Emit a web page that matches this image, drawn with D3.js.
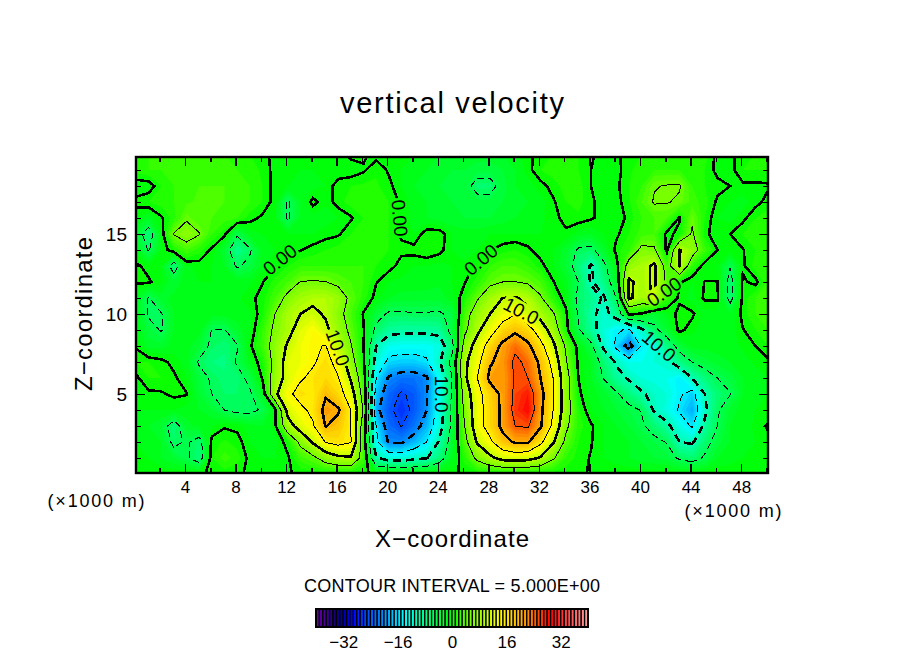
<!DOCTYPE html>
<meta charset="utf-8">
<style>
html, body { margin: 0; background: #fff; }
svg { display: block; }
text { font-family: "Liberation Sans", sans-serif; fill: #000; }
</style>
<body>
<script src="https://d3js.org/d3.v7.min.js"></script>
<script>

const width = 904
const height = 654

// W values, one row per km of height from z=20 down to z=0,
// one column per km of distance from x=0 to x=50
const zLevels = [20, 19, 18, 17, 16, 15, 14, 13, 12, 11, 10, 9, 8, 7, 6, 5, 4, 3, 2, 1, 0]
const xStart = 0.125
const wRows = [
  [1.5,2,2,2,2,2,2,2,1.5,1,0.5,-0.5,-1,-1,-1,-1,-0.5,0.4,0.3,-0.5,-0.5,-1,-1,-1.5,-2,-2.5,-2.5,-2.5,-2.5,-2,-1.5,-0.5,0.8,1,1,1,0.2,-0.5,-0.2,0.5,1,1.5,1.5,1.5,1.5,1.5,-0.5,-0.5,0.8,1,1],
  [1.5,2,2,2.5,2.5,2.5,2.5,2.5,2,1.5,0.8,-0.5,-1,-1,-1,-1,-1,-0.8,-0.2,0.8,-0.2,-1,-1.5,-2,-2.5,-3,-3,-3.5,-3.5,-3,-2,-0.5,1,1.5,1.5,1,0,-0.5,-0.5,0.8,1.5,2,2,2,1.5,1,-0.5,-0.5,1,1,1],
  [-1,-0.8,1,2,2.5,3,3,3,2.5,2,1,-0.5,-1,-1.5,-1.5,-1,0.8,1,1.2,1.2,0.4,-1,-2,-2.5,-3,-3.5,-3.5,-6.5,-6.5,-3.5,-2,-1.5,-0.5,0.5,1.5,1.5,0,-0.5,-0.3,1,2,4.8,5.2,5.3,2,1,0.5,0,-0.3,-0.3,-0.2],
  [0.5,1,1.5,2,2.8,3.2,3.5,3,2.5,2,1,-0.6,-5.5,-2,0.5,-0.8,0.6,1.5,1.5,1.5,1,-0.3,-1.5,-2,-2.5,-3,-3.5,-3.5,-3.5,-3,-2.5,-2,-1.5,-0.2,1,1.5,0.2,-0.5,-0.5,0.8,3,5.3,5.2,4.5,2.5,1.5,-0.3,-1,-1.5,-0.5,0.5],
  [-1,-2,-0.2,1.5,4.5,3,3,2.5,2,0.5,-0.3,-1,-5.5,-2,-1.5,-1.5,-1,-0.2,1,1.5,1,-0.3,-1.5,-2,-2.5,-3,-3,-3,-3,-2.5,-2,-1.5,-1.2,-0.5,0.5,0.7,0.2,-0.5,-1,0.5,2,3,3,-0.2,4.5,1,-1,-1.5,-0.4,1,1.5],
  [-3,-7,-1,5.2,7,5.2,2,0.4,-4.5,-1.5,-1,-1,-1,-1,-1,-0.5,-0.2,1,1.5,1.5,1,-0.2,-1,0.8,0.8,-1,-1.5,-1.5,-1,-1,-1,-1,-1,-0.8,-0.3,-1.5,-2,-1,-0.3,1,2.5,3,-0.5,0.5,5.5,0.5,-1,0,1,1.5,2],
  [-1.5,-5.3,-1,1,3,1.5,-0.3,-3,-8,-5.5,-1.5,-1,-0.8,-0.1,0.5,1,1.5,1.5,1.5,1.5,1,0.3,0.5,1,0.5,-1,-1.5,-1,-0.1,0.6,1,0.3,-0.7,-1,-2.5,-5.5,-6,-2.5,0.5,2,6,5.5,-0.5,10.2,7,2.5,0,-0.3,-0.1,1,2],
  [0.3,-0.5,-1,-7,-1.2,-0.7,-1,-2,-5.5,-4,-1.5,-0.1,1,2,2,2,2,2,2,1,0.5,-0.5,-1,-1,-1.5,-1,-0.8,0.3,2,3,3,2,0.5,-1,-3,-7,-10.5,-6,-1,7,8.5,10.8,3,10.2,2,-0.8,-1,-4.8,-0.3,1.5,2],
  [0.3,0.2,-0.7,-3,-1.2,-1,-1,-1.2,-1.2,-1.2,-0.1,1.5,3,5.1,5.3,5.1,4,3,2,0.1,-1,-1.2,-1.3,-1.5,-1.8,-1,-0.1,1.5,4,5,5.1,4.5,3,0.1,-1.5,-5,-10.5,-7.5,-2.5,10.8,8.5,10.8,4,0.3,-1,0.05,0.05,-6.5,0.3,-0.5,2],
  [-2,-5.2,-2.5,-1.5,-1.3,-1.2,-1.2,-1.2,-1.2,-0.4,0.5,3,6,8,9,9,7.5,4,1.5,-0.6,-2,-2.5,-2.5,-2.5,-2.5,-1.5,1,4.5,8,10,10.3,9,5.5,1.5,-0.8,-6,-8,-10.5,-5,10.8,8,10.5,2.5,-0.5,-1.5,0.3,0.3,-6.5,0.4,2,2.5],
  [-1.2,-5.5,-5.2,-2,-1.5,-1.5,-1.5,-1.5,-1.5,-1.2,0.8,5,8.5,10,11,9.5,6.5,3,-0.2,-3.5,-5.5,-5.5,-5.2,-5.3,-5.5,-4,3,7.5,10,13,14.8,11,8.5,5.5,0.5,-5.5,-9,-11.5,-8,0.5,-0.3,-3,-1.5,0.8,0.3,-1.5,-1.5,-2,0.5,2,2.5],
  [-1,-3.5,-5.3,-2,-1.5,-1.5,-5.1,-5.2,-2.5,-1.2,2,6,8.5,12,14,11,7.5,4,0.2,-6,-8.5,-9,-9,-9,-8.5,-3.5,4,9,13,17,19,17,12.5,8,1,-4.5,-8.5,-12,-14.5,-15.5,-11,-6,-3,0.5,-0.8,-1.5,-1.5,-1.5,-0.1,1,2],
  [-0.2,-2.5,-2.5,-1.5,-1.5,-3,-5.8,-6.5,-5.3,-0.4,2.5,7,10.5,13,14.5,15.2,10,5.3,0.1,-10,-13,-13.5,-13.5,-13.5,-12.5,-6.5,7,12,17,21,24,21,16.5,11,4.5,-1,-4,-11,-16,-22,-14.5,-12,-7.5,-3.5,-1.5,-1.5,-1.5,-1.5,-0.8,0,1],
  [1,1,0.5,-0.5,-1.5,-5.5,-7,-7.5,-4.5,-1.5,1,6.5,12,13,14.5,16.5,13.5,7,0.5,-12,-16,-16.5,-16.5,-15.5,-10.5,-3.5,9,13.5,19.5,21.5,26,24,19,13.5,5.5,-0.5,-2,-6.5,-10.5,-13,-13,-12,-11,-7.5,-5,-3.5,-2.5,-2,-1.5,-0.8,-0.3],
  [-0.3,1,1,0.3,-1,-3.5,-5.5,-6.5,-6.5,-4,0.2,7.5,11.5,14.5,16,17,15.2,9.5,2,-15,-20.5,-22,-22,-20.5,-13.5,-5,9,15,21,21,25.5,25,20,15,7,0,-2,-5.2,-8.5,-10.5,-12,-12.5,-13,-14.5,-10,-7,-5,-3.5,-2,-1.5,-1],
  [-0.5,-0.3,-0.2,0.3,0.1,-3,-5,-6,-6,-5.5,-2,9,14,16.5,15.5,19.5,17,12.5,3,-17,-23,-25.5,-24,-20.2,-13,-4.5,7,13.5,17.5,21,26,28,21.5,15.5,7,0.4,-1.5,-2.5,-4.5,-7,-9.5,-11,-12,-14.5,-16.5,-10,-6.5,-5.2,-2,-1.5,-1],
  [-1,-1,-1,-1,-1.5,-2,-3,-5,-6,-6,-4.5,-0.7,11.5,14,16,21.5,20.5,15,4.5,-18.5,-24,-27,-24,-20,-12.5,-4,6,13,17,21,26.5,29,21,15,7.5,1.2,-1,-2,-3,-4,-5.2,-10.5,-12.5,-15.5,-18.5,-11,-5.5,-2.5,-1.5,-1,-1],
  [-1.5,-2,-3,-7,-2.5,-1.5,-1,-0.2,-0.4,-1.5,-2,-0.5,8,12,14.5,20.2,18.5,15,2.5,-15,-22.5,-25.2,-22,-18,-12,-4,5,13,17,21,25,25.5,20.5,14,6,1.5,0.2,-1,-2,-3,-4.5,-6.5,-9,-12.5,-15.5,-9,-5,-2,-1.5,-0.8,0.2],
  [-1,-1.5,-2,-6,-4.5,-6.5,0.5,1.2,0.6,-1,-1.5,-1.5,0.8,6,10.5,15.2,16.5,15.2,2,-14,-20.5,-20.5,-18,-15,-9.5,-3,3.5,10.5,14,18.5,20.5,20.5,16,10.5,4,1,0.1,-1,-1.5,-2,-3,-4,-5.2,-10,-10.5,-6.5,-3.5,-2,-1.5,-1,-0.5],
  [-1,-1,-2,-3,-4.5,-7,1,2.5,1.5,-0.5,-1,-1,-0.3,2.5,4,7,9,9.5,3,-9.5,-12,-12,-11,-10.2,-7,-2,1.5,6,9,11.5,12,11.5,9.5,5.5,2,0.5,-0.1,-1,-1.5,-2,-2.5,-3,-3.5,-5.5,-6.5,-4.5,-2,-1.5,-1,-0.8,-0.5],
  [-0.2,-0.2,-0.2,-0.2,-0.2,-0.2,0.2,0.3,0.2,-0.2,-0.2,-0.2,-0.1,0.2,0.3,0.3,0.3,0.3,0.2,-0.3,-0.3,-0.3,-0.3,-0.3,-0.3,-0.2,0.2,0.3,0.3,0.3,0.3,0.3,0.3,0.3,0.2,0.2,-0.1,-0.2,-0.2,-0.2,-0.2,-0.2,-0.2,-0.3,-0.3,-0.3,-0.2,-0.2,-0.2,-0.2,-0.2]
]

const contourLevels = [-25, -20, -15, -10, -5, 0, 5, 10, 15, 20, 25]
const thickLevels = [-20, -10, 0, 10, 20]

// colour stops of the bar along W
const colourStops = [-40, -37, -34, -32, -29, -26, -21, -17, -14, -9, -4, 0, 5, 10, 14, 20, 23, 26, 29, 33, 37, 40]
const colourValues = ['#7000b0', '#400090', '#100070', '#0000a0', '#0000ff', '#0040ff', '#0080ff', '#00c8ff', '#00ffff', '#00ffa0', '#00ff40', '#00ff00', '#70ff00', '#c0ff00', '#ffff00', '#ffb400', '#ff8000', '#ff4000', '#ff0000', '#ff3c3c', '#ff7070', '#ffa0a0']

const xTicks = [4, 8, 12, 16, 20, 24, 28, 32, 36, 40, 44, 48]
const xMinorTicks = [2, 6, 10, 14, 18, 22, 26, 30, 34, 38, 42, 46, 50]
const zTicks = [5, 10, 15]
const zMinorTicks = [1, 2, 3, 4, 6, 7, 8, 9, 11, 12, 13, 14, 16, 17, 18, 19]
const barTicks = [-32, -16, 0, 16, 32]

// line labels: text, x, z, angle
const lineLabels = [
  ['0.00', 11.5, 13.4, -38],
  ['10.0', 16.1, 7.9, 70],
  ['0.00', 21, 16, 85],
  ['10.0', 24.3, 5, 90],
  ['0.00', 27.4, 13.4, -40],
  ['10.0', 30.6, 10.2, 28],
  ['0.00', 41.9, 11.4, -35],
  ['10.0', 41.5, 8, 40]
]

const x = d3.scaleLinear().domain([0.125, 50.125]).range([136, 768])
const y = d3.scaleLinear().domain([0.0625, 19.8125]).range([473, 157])
const colour = d3.scaleLinear().domain(colourStops).range(colourValues)

const svg = d3.select('body').append('svg')
  .attr('width', width)
  .attr('height', height)

const defs = svg.append('defs')
defs.append('clipPath').attr('id', 'plot')
  .append('rect')
  .attr('x', x.range()[0])
  .attr('y', y.range()[1])
  .attr('width', x.range()[1] - x.range()[0])
  .attr('height', y.range()[0] - y.range()[1])

// the grid is kept in d3.contours coordinates, a cell centre sits on i + 0.5
const nx = wRows[0].length
const nz = wRows.length
const values = wRows.flat()
const gridPath = d3.geoPath(d3.geoTransform({
  point(u, v) {
    this.stream.point(x(u - 0.5 + xStart), y(zLevels[0] - (v - 0.5)))
  }
}))
const contours = d3.contours().size([nx, nz])

const plot = svg.append('g').attr('clip-path', 'url(#plot)')

// Fill bands, one per colour cell
plot.selectAll('path.band')
  .data(d3.range(-40, 40).map(t => contours.contour(values, t)))
  .join('path')
  .attr('class', 'band')
  .attr('d', gridPath)
  .attr('fill', d => colour(d.value + 0.5))

// Contour lines are broken under their labels
const mask = defs.append('mask').attr('id', 'gaps')
  .attr('maskUnits', 'userSpaceOnUse')
  .attr('x', 0).attr('y', 0).attr('width', width).attr('height', height)
mask.append('rect').attr('width', width).attr('height', height).attr('fill', '#fff')
mask.selectAll('rect.gap')
  .data(lineLabels)
  .join('rect')
  .attr('class', 'gap')
  .attr('x', -20).attr('y', -9).attr('width', 40).attr('height', 18)
  .attr('fill', '#000')
  .attr('transform', d => `translate(${x(d[1])},${y(d[2])}) rotate(${d[3]})`)

plot.append('g').attr('mask', 'url(#gaps)')
  .selectAll('path.line')
  .data(contourLevels.map(t => contours.contour(values, t)))
  .join('path')
  .attr('class', 'line')
  .attr('d', gridPath)
  .attr('fill', 'none')
  .attr('stroke', '#000')
  .attr('shape-rendering', 'crispEdges')
  .attr('stroke-width', d => thickLevels.includes(d.value) ? 2.6 : 1)
  .attr('stroke-dasharray', d => d.value < 0 ? (thickLevels.includes(d.value) ? '8,5' : '7,4') : null)

plot.selectAll('text.label')
  .data(lineLabels)
  .join('text')
  .attr('class', 'label')
  .attr('transform', d => `translate(${x(d[1])},${y(d[2])}) rotate(${d[3]})`)
  .attr('text-anchor', 'middle')
  .attr('dy', '0.36em')
  .attr('font-size', 19)
  .text(d => d[0])

// Frame and ticks, all pointing into the plot
function inward(axis, tickList, size) {
  return axis.tickValues(tickList).tickSize(-size).tickFormat('')
}
function drawAxis(axis, dx, dy, strokeWidth) {
  const g = svg.append('g').attr('transform', `translate(${dx},${dy})`).call(axis)
  g.select('.domain').remove()
  g.selectAll('line').attr('stroke', '#000').attr('stroke-width', strokeWidth).attr('shape-rendering', 'crispEdges')
  return g
}
const [plotLeft, plotRight] = x.range()
const [plotBottom, plotTop] = y.range()
drawAxis(inward(d3.axisBottom(x), xMinorTicks, 5), 0, plotBottom, 1.5)
drawAxis(inward(d3.axisTop(x), xMinorTicks, 5), 0, plotTop, 1.5)
drawAxis(inward(d3.axisLeft(y), zMinorTicks, 5), plotLeft, 0, 1.5)
drawAxis(inward(d3.axisRight(y), zMinorTicks, 5), plotRight, 0, 1.5)
drawAxis(inward(d3.axisTop(x), xTicks, 9), 0, plotTop, 1.5)
drawAxis(inward(d3.axisRight(y), zTicks, 9), plotRight, 0, 1.5)

const xAxis = drawAxis(d3.axisBottom(x).tickValues(xTicks).tickSize(-9).tickPadding(8), 0, plotBottom, 1.5)
xAxis.selectAll('text').attr('font-size', 17).attr('font-family', '"Liberation Sans", sans-serif')
const zAxis = drawAxis(d3.axisLeft(y).tickValues(zTicks).tickSize(-9).tickPadding(9), plotLeft, 0, 1.5)
zAxis.selectAll('text').attr('font-size', 19).attr('font-family', '"Liberation Sans", sans-serif')

svg.append('rect')
  .attr('x', plotLeft).attr('y', plotTop)
  .attr('width', plotRight - plotLeft).attr('height', plotBottom - plotTop)
  .attr('fill', 'none').attr('stroke', '#000').attr('stroke-width', 2.4)

// Titles
function caption(txt, px, py, size, length, angle) {
  svg.append('text')
    .attr('transform', `translate(${px},${py}) rotate(${angle || 0})`)
    .attr('text-anchor', 'middle')
    .attr('font-size', size)
    .attr('textLength', length)
    .text(txt)
}
caption('vertical velocity', 452, 113, 29, 224)
caption('X\u2212coordinate', 452, 547, 24, 154)
caption('Z\u2212coordinate', 92, 314, 24, 154, -90)
caption('(\u00d71000 m)', 96, 507, 18, 97)
caption('(\u00d71000 m)', 733, 517, 18, 97)
caption('CONTOUR INTERVAL = 5.000E+00', 452, 592, 18, 296)

// Colour bar, one cell per unit of W
const bar = d3.scaleLinear().domain([-40, 40]).range([316, 588])
svg.selectAll('rect.cell')
  .data(d3.range(-40, 40))
  .join('rect')
  .attr('class', 'cell')
  .attr('x', d => bar(d))
  .attr('y', 609)
  .attr('width', bar(1) - bar(0))
  .attr('height', 18)
  .attr('fill', d => colour(d + 0.5))
  .attr('stroke', '#000')
  .attr('stroke-width', 1.3)
svg.append('rect')
  .attr('x', 316).attr('y', 609).attr('width', 272).attr('height', 18)
  .attr('fill', 'none').attr('stroke', '#000').attr('stroke-width', 2)
const barAxis = svg.append('g').attr('transform', 'translate(0,627)')
  .call(d3.axisBottom(bar).tickValues(barTicks).tickSize(0).tickPadding(9).tickFormat(d => String(d).replace('-', '\u2212')))
barAxis.select('.domain').remove()
barAxis.selectAll('text').attr('font-size', 17).attr('font-family', '"Liberation Sans", sans-serif')

</script>
</body>
</html>
